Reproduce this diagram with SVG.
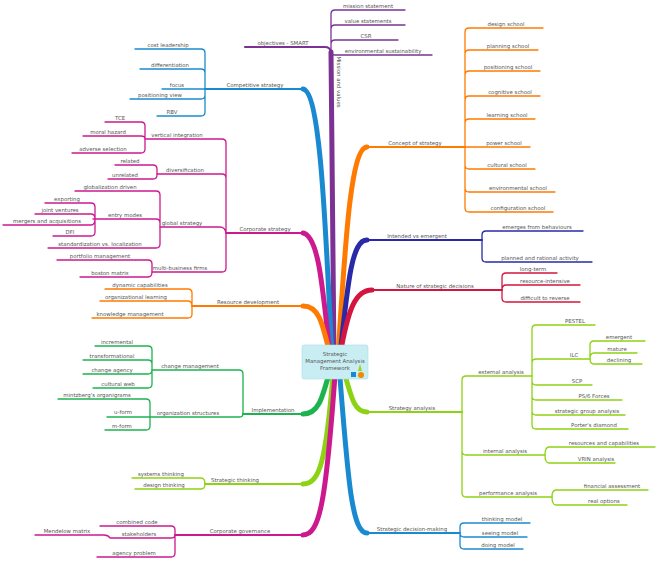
<svg xmlns="http://www.w3.org/2000/svg" width="658" height="563" viewBox="0 0 658 563">
<style>
text{font-family:"DejaVu Sans","Liberation Sans",sans-serif;font-size:5.4px;fill:#555;text-anchor:middle}
path{fill:none;stroke-linecap:round;stroke-linejoin:round}
.t{stroke-width:1.3}
.m{stroke-width:2.2}
.k{stroke-width:5}
.pu{stroke:#7b3294}.bl{stroke:#1a8ad0}.mg{stroke:#cc1a8e}.or{stroke:#ff7a00}.gr{stroke:#1db34f}.li{stroke:#8dd214}.nv{stroke:#2a2aa8}.cr{stroke:#d3163f}
</style>
<g id="connectors">
<path class="k pu" d="M334 360 C333 250 331 150 331 52"/>
<path class="m pu" d="M331 52 Q330 47 325 47 H245"/>
<path class="t pu" d="M331 52 V14 Q331 10 335 10 H405 M331 52 V29 Q331 25 335 25 H405 M331 52 V44 Q331 40 335 40 H398 M331 52 Q331 55 335 55 H432"/>
<path class="k bl" d="M332 355 C326 250 322 92 303 89"/><path class="m bl" d="M303 89 H205"/>
<path class="t bl" d="M205 89 V53 Q205 49 201 49 H135 M205 89 V73 Q205 69 201 69 H140 M205 89 H162 M205 89 V95 Q205 99 201 99 H130 M205 89 V112 Q205 116 201 116 H157"/>
<path class="k mg" d="M330 355 C322 280 318 236 303 233"/><path class="m mg" d="M303 233 H226"/>
<path class="t mg" d="M226 233 V143 Q226 139 222 139 H145 M226 233 V178 Q226 174 222 174 H157 M226 233 Q225 227 220 227 H160 M226 233 V268 Q226 272 222 272 H152"/>
<path class="t mg" d="M145 139 V126 Q145 122 141 122 H105 M145 139 Q145 136 141 136 H83 M145 139 V149 Q145 153 141 153 H72"/>
<path class="t mg" d="M157 174 V169 Q157 165 153 165 H115 M157 174 V175 Q157 179 153 179 H108"/>
<path class="t mg" d="M160 227 V195 Q160 191 156 191 H75 M160 227 V223 Q160 219 156 219 H93 M160 227 V244 Q160 248 156 248 H48"/>
<path class="t mg" d="M95 219 V207 Q95 203 91 203 H45 M95 219 Q95 214 91 214 H35 M95 219 Q95 225 91 225 H3 M95 219 V232 Q95 236 91 236 H53"/>
<path class="t mg" d="M152 272 V264 Q152 260 148 260 H57 M152 272 Q152 277 148 277 H80"/>
<path class="k or" d="M330 355 C322 320 318 306 303 306"/><path class="m or" d="M303 306 H192"/>
<path class="t or" d="M192 306 V293 Q192 289 188 289 H105 M192 306 Q192 301 188 301 H100 M192 306 V314 Q192 318 188 318 H92"/>
<path class="k gr" d="M330 370 C322 400 318 414 303 414"/><path class="m gr" d="M303 414 H243"/>
<path class="t gr" d="M243 414 V374 Q243 370 239 370 H152 M243 414 Q243 417 239 417 H150"/>
<path class="t gr" d="M152 370 V350 Q152 346 148 346 H95 M152 370 V364 Q152 360 148 360 H83 M152 370 Q152 374 148 374 H83 M152 370 V384 Q152 388 148 388 H93"/>
<path class="t gr" d="M150 417 V403 Q150 399 146 399 H58 M150 417 H107 M150 417 V426 Q150 430 146 430 H105"/>
<path class="k li" d="M333 375 C326 460 320 484 303 484"/><path class="m li" d="M303 484 H205"/>
<path class="t li" d="M205 484 Q205 478 201 478 H132 M205 484 Q205 489 201 489 H135"/>
<path class="k mg" d="M335 375 C326 500 320 535 303 535"/><path class="m mg" d="M303 535 H175"/>
<path class="t mg" d="M175 535 V530 Q175 526 171 526 H100 M175 535 Q175 538 171 538 H110 M175 535 V553 Q175 557 171 557 H97 M110 538 Q108 535 104 535 H35"/>
<path class="k or" d="M338 355 C345 250 350 148 367 147"/><path class="m or" d="M367 147 H465"/>
<path class="t or" d="M465 147 V32 Q465 28 469 28 H543 M465 147 V54 Q465 50 469 50 H538 M465 147 V75 Q465 71 469 71 H540 M465 147 V100 Q465 96 469 96 H540 M465 147 V123 Q465 119 469 119 H535 M465 147 H530 M465 147 V165 Q465 169 469 169 H535 M465 147 V188 Q465 192 469 192 H555 M465 147 V208 Q465 212 469 212 H553"/>
<path class="k nv" d="M340 355 C348 280 352 240 367 240"/><path class="m nv" d="M367 240 H482"/>
<path class="t nv" d="M482 240 V235 Q482 231 486 231 H583 M482 240 V258 Q482 262 486 262 H592"/>
<path class="k cr" d="M340 355 C348 310 355 290 372 290"/><path class="m cr" d="M372 290 H502"/>
<path class="t cr" d="M502 290 V277 Q502 273 506 273 H557 M502 290 Q502 285 506 285 H580 M502 290 V298 Q502 302 506 302 H580"/>
<path class="k li" d="M345 375 C352 400 355 412 367 412"/><path class="m li" d="M367 412 H462"/>
<path class="t li" d="M462 412 V380 Q462 376 466 376 H532 M462 412 V451 Q462 455 466 455 H545 M462 412 V493 Q462 497 466 497 H552"/>
<path class="t li" d="M532 376 V329 Q532 325 536 325 H595 M532 376 V363 Q532 359 536 359 H590 M532 376 V381 Q532 385 536 385 H592 M532 376 V396 Q532 400 536 400 H622 M532 376 V411 Q532 415 536 415 H625 M532 376 V425 Q532 429 536 429 H628"/>
<path class="t li" d="M590 359 V345 Q590 341 594 341 H645 M590 359 Q590 353 594 353 H637 M590 359 Q590 364 594 364 H642"/>
<path class="t li" d="M545 455 Q545 447 549 447 H655 M545 455 Q545 463 549 463 H615 M552 497 Q552 490 556 490 H648 M552 497 Q552 505 556 505 H627"/>
<path class="k bl" d="M340 378 C348 480 352 533 367 533"/><path class="m bl" d="M367 533 H460"/>
<path class="t bl" d="M460 533 V527 Q460 523 464 523 H530 M460 533 Q460 537 464 537 H527 M460 533 V545 Q460 549 464 549 H523"/>
</g>
<g id="center">
<rect x="302" y="345" width="66" height="34" rx="2" fill="#c8eef3" stroke="#a8dde5" stroke-width="0.6"/>
<text x="335" y="356">Strategic</text><text x="335" y="363">Management Analysis</text><text x="335" y="370">Framework</text>
<rect x="351" y="372" width="5" height="5" fill="#1a8ad0"/><circle cx="361" cy="375" r="3" fill="#f08a00"/><polygon points="358,371 360,364 362,371" fill="#9bd21a"/>
</g>
<g id="labels">
<text x="337" y="82" transform="rotate(90 337 82)">Mission and values</text>
<text x="283" y="45">objectives - SMART</text>
<text x="368" y="8">mission statement</text><text x="368" y="23">value statements</text><text x="366" y="38">CSR</text><text x="383" y="53">environmental sustainability</text>
<text x="255" y="87">Competitive strategy</text>
<text x="168" y="47">cost leadership</text><text x="170" y="67">differentiation</text><text x="177" y="87">focus</text><text x="160" y="97">positioning view</text><text x="172" y="114">RBV</text>
<text x="265" y="231">Corporate strategy</text>
<text x="177" y="137">vertical integration</text><text x="185" y="172">diversification</text><text x="182" y="225">global strategy</text><text x="180" y="270">multi-business firms</text>
<text x="120" y="120">TCE</text><text x="108" y="134">moral hazard</text><text x="103" y="151">adverse selection</text>
<text x="130" y="163">related</text><text x="125" y="177">unrelated</text>
<text x="110" y="189">globalization driven</text><text x="125" y="217">entry modes</text><text x="100" y="246">standardization vs. localization</text>
<text x="67" y="201">exporting</text><text x="60" y="212">joint ventures</text><text x="47" y="223">mergers and acquisitions</text><text x="70" y="234">DFI</text>
<text x="100" y="258">portfolio management</text><text x="110" y="275">boston matrix</text>
<text x="248" y="304">Resource development</text>
<text x="140" y="287">dynamic capabilities</text><text x="136" y="299">organizational learning</text><text x="130" y="316">knowledge management</text>
<text x="273" y="412">Implementation</text>
<text x="190" y="368">change management</text><text x="188" y="415">organization structures</text>
<text x="117" y="344">incremental</text><text x="112" y="358">transformational</text><text x="112" y="372">change agency</text><text x="118" y="386">cultural web</text>
<text x="97" y="397">mintzberg's organigrams</text><text x="123" y="414">u-form</text><text x="122" y="428">m-form</text>
<text x="235" y="482">Strategic thinking</text>
<text x="161" y="476">systems thinking</text><text x="164" y="487">design thinking</text>
<text x="240" y="533">Corporate governance</text>
<text x="137" y="524">combined code</text><text x="139" y="536">stakeholders</text><text x="134" y="555">agency problem</text><text x="67" y="533">Mendelow  matrix</text>
<text x="415" y="145">Concept of strategy</text>
<text x="506" y="26">design school</text><text x="508" y="48">planning school</text><text x="508" y="69">positioning school</text><text x="510" y="94">cognitive school</text><text x="507" y="117">learning school</text><text x="504" y="145">power school</text><text x="507" y="167">cultural school</text><text x="518" y="190">environmental school</text><text x="518" y="210">configuration school</text>
<text x="417" y="238">Intended vs emergent</text>
<text x="537" y="229">emerges from behaviours</text><text x="540" y="260">planned and rational activity</text>
<text x="435" y="288">Nature of strategic decisions</text>
<text x="533" y="271">long-term</text><text x="545" y="283">resource-intensive</text><text x="545" y="300">difficult to reverse</text>
<text x="412" y="410">Strategy analysis</text>
<text x="501" y="374">external analysis</text><text x="505" y="453">internal analysis</text><text x="508" y="495">performance analysis</text>
<text x="575" y="323">PESTEL</text><text x="574" y="357">ILC</text><text x="577" y="383">SCP</text><text x="594" y="398">PS/6 Forces</text><text x="587" y="413">strategic group analysis</text><text x="594" y="427">Porter's diamond</text>
<text x="619" y="339">emergent</text><text x="617" y="351">mature</text><text x="619" y="362">declining</text>
<text x="604" y="445">resources and capabilities</text><text x="596" y="461">VRIN analysis</text>
<text x="612" y="488">financial assessment</text><text x="604" y="503">real options</text>
<text x="412" y="531">Strategic decision-making</text>
<text x="502" y="521">thinking model</text><text x="500" y="535">seeing model</text><text x="498" y="547">doing model</text>
</g>
</svg>
